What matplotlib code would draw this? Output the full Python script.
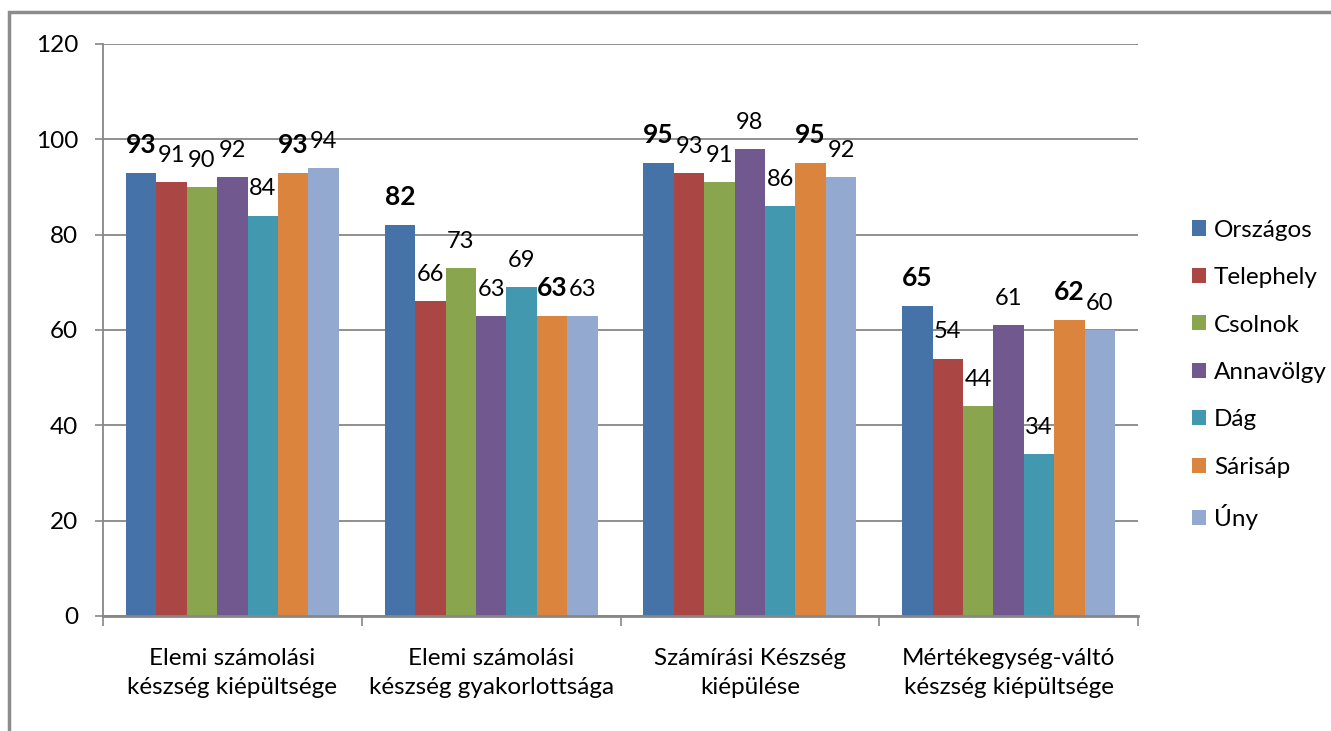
import matplotlib
matplotlib.use('Agg')
import matplotlib.pyplot as plt
import numpy as np
from matplotlib.patches import Rectangle

plt.rcParams['font.family'] = ['Lato', 'DejaVu Sans']

# Data
categories = ['Elemi számolási\nkészség kiépültsége',
              'Elemi számolási\nkészség gyakorlottsága',
              'Számírási Készség\nkiépülése',
              'Mértékegység-váltó\nkészség kiépültsége']
series_names = ['Országos', 'Telephely', 'Csolnok', 'Annavölgy', 'Dág', 'Sárisáp', 'Úny']
orszagos = [93, 82, 95, 65]
telephely = [91, 66, 93, 54]
csolnok = [90, 73, 91, 44]
annavolgy = [92, 63, 98, 61]
dag = [84, 69, 86, 34]
sarisap = [93, 63, 95, 62]
uny = [94, 63, 92, 60]
bold_series = ['Országos', 'Sárisáp']

colors = ['#4572A7', '#AA4643', '#89A54E', '#71588F', '#4198AF', '#DB843D', '#93A9CF']
series = [orszagos, telephely, csolnok, annavolgy, dag, sarisap, uny]

fig = plt.figure(figsize=(13.31, 7.31), dpi=100)
fig.patch.set_facecolor('white')
ax = fig.add_axes([103 / 1331, 115 / 731, (1138 - 103) / 1331, (616 - 44) / 731])

x = np.arange(len(categories))
width = 0.1175
n = len(series)
grid_color = '#878787'

for i, (name, vals, col) in enumerate(zip(series_names, series, colors)):
    pos = x + (i - (n - 1) / 2) * width
    ax.bar(pos, vals, width, color=col, label=name, zorder=2, linewidth=0)
    bold = name in bold_series
    for p, v in zip(pos, vals):
        ax.annotate(str(v), (p, v), xytext=(0, 14.5), textcoords='offset points',
                    ha='center', va='baseline',
                    fontsize=19 if bold else 17,
                    fontweight='bold' if bold else 'normal',
                    color='black', zorder=3)

ax.set_xlim(-0.5, len(categories) - 0.5)
ax.set_ylim(0, 120)
ax.set_yticks(range(0, 121, 20))
ax.yaxis.grid(True, color=grid_color, linewidth=1.3, zorder=0)
ax.set_axisbelow(True)

ax.set_xticks(np.arange(-0.5, len(categories), 1.0), minor=False)
ax.set_xticklabels([])
ax.set_xticks(x, minor=True)
ax.set_xticklabels(categories, minor=True, fontsize=17.5, linespacing=1.5)
ax.tick_params(axis='x', which='major', length=7, color=grid_color, width=1.2, direction='out')
ax.tick_params(axis='x', which='minor', length=0, pad=23)
ax.tick_params(axis='y', length=5.8, color=grid_color, width=1.2, labelsize=17.5, pad=12)

for s in ['top', 'right']:
    ax.spines[s].set_visible(False)
for s in ['left', 'bottom']:
    ax.spines[s].set_color(grid_color)
    ax.spines[s].set_linewidth(1.3)
ax.spines['bottom'].set_linewidth(2)

leg = fig.legend(loc='center left', bbox_to_anchor=(1170 / 1331, (731 - 375) / 731),
                 frameon=False, fontsize=17.5, handlelength=0.58, handleheight=0.58,
                 handletextpad=0.33, labelspacing=1.09)

# outer chart frame
fig.patches.append(Rectangle((9 / 1331, -0.1), 1.2, (731 - 12) / 731 + 0.1,
                             transform=fig.transFigure, fill=False,
                             edgecolor='#8c8c8c', linewidth=2.5))

fig.savefig('out.png', dpi=100)
